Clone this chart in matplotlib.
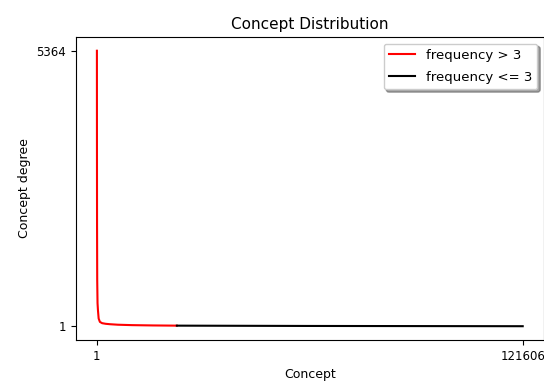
import numpy as np
import matplotlib.pyplot as plt

# concept rank vs degree
red_x = [1, 15, 40, 90, 180, 300, 500, 857, 1500, 2500, 3712, 6000, 10000, 16000, 22838]
red_y = [5364, 3600, 2000, 900, 450, 313, 150, 85, 60, 48, 40, 30, 22, 16, 12]
black_x = [22838, 60000, 121606]
black_y = [12, 6, 1]

x_ticks = [1, 121606]
y_ticks = [1, 5364]

plt.rcParams['font.family'] = ['DejaVu Sans']

fig = plt.figure(figsize=(5.44, 3.89), dpi=100)
ax = fig.add_axes([0.139, 0.126, 0.861, 0.779])
ax.plot(red_x, red_y, color='red', linewidth=1.5, label='frequency > 3')
ax.plot(black_x, black_y, color='black', linewidth=1.5, label='frequency <= 3')
ax.set_xticks(x_ticks)
ax.set_yticks(y_ticks)
ax.tick_params(labelsize=8.5)
ax.set_title('Concept Distribution', fontsize=11)
ax.set_xlabel('Concept', fontsize=9)
ax.set_ylabel('Concept degree', fontsize=9)
ax.legend(loc='upper right', shadow=True, fontsize=9.5, labelspacing=0.7)

fig.savefig('out.png', dpi=100)
